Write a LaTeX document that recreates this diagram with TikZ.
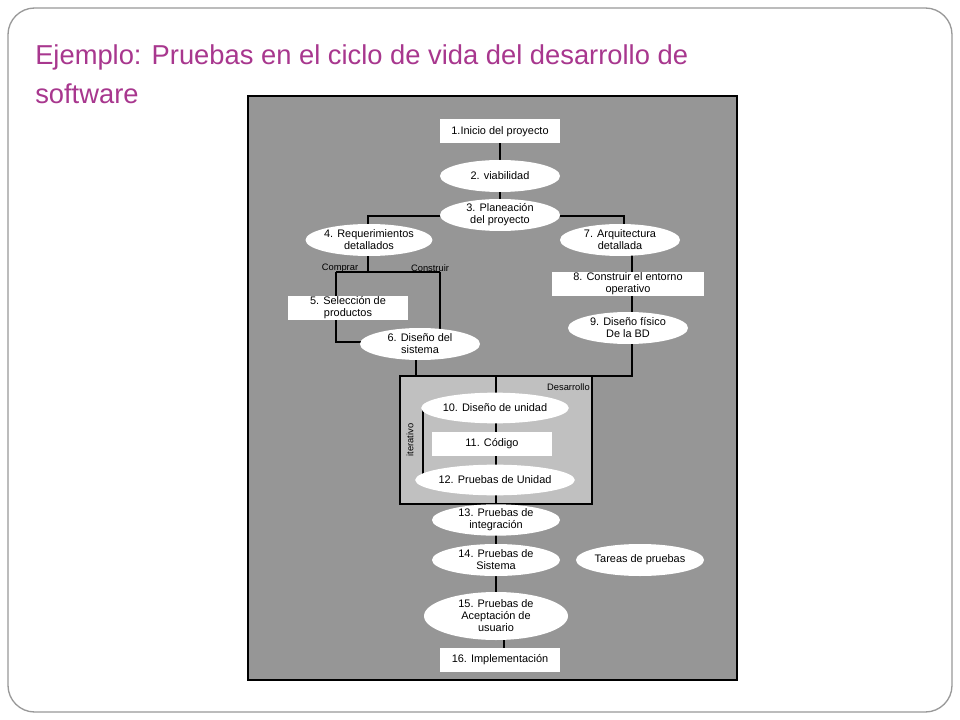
\documentclass[tikz,border=0pt]{standalone}
\usepackage{fontspec}
\setmainfont{Liberation Sans}
\usetikzlibrary{shapes.geometric}
\definecolor{ttl}{HTML}{A8378E}
\definecolor{panel}{HTML}{969696}
\definecolor{dev}{HTML}{C0C0C0}
\tikzset{
 ov/.style={ellipse,fill=white,inner sep=0pt,minimum width=#1*0.75pt,minimum height=24pt,align=center,font=\fontsize{8.2}{9}\selectfont},
 ov/.default=120,
 rb/.style={rectangle,fill=white,inner sep=0pt,minimum height=18pt,align=center,font=\fontsize{8.2}{9}\selectfont},
 ln/.style={draw=black,line width=0.9pt},
 lab/.style={font=\fontsize{7}{8}\selectfont,inner sep=0pt}
}
\begin{document}
\begin{tikzpicture}[x=0.75pt,y=-0.75pt]
\useasboundingbox (0,0) rectangle (960,720);
\fill[white] (0,0) rectangle (960,720);
\draw[draw=gray!80,line width=1pt,rounded corners=20pt,fill=white] (8,8) rectangle (952,712);
\node[anchor=base west,inner sep=0pt,text=ttl,font=\fontsize{20.5}{24}\selectfont] (t1) at (35,65) {Ejemplo: Pruebas en el ciclo de vida del desarrollo de};
\node[anchor=base west,inner sep=0pt,text=ttl,font=\fontsize{20.5}{24}\selectfont] (t2) at (35,104) {software};
\draw[fill=panel,draw=black,line width=0.8pt] (248,96) rectangle (737,680);
\draw[fill=dev,ln] (400,376) rectangle (592,504);
\coordinate (top) at (416,376);
\coordinate (tr) at (632,376);
\coordinate (c1) at (496,376);
% lines behind
\draw[ln] (500,131) -- (500,216);
\draw[ln] (440,216) -| (368,226);
\draw[ln] (560,216) -| (624,226);
\draw[ln] (368,255) -- (368,272);
\draw[ln] (336,272) -- (440,272);
\draw[ln] (336,272) -- (336,342) -- (362,342);
\draw[ln] (440,272) -- (440,332);
\draw[ln] (416,360) -- (top);
\draw[ln] (top) -- (tr) -- (632,255);
\draw[ln] (c1) -- (496,600);
\draw[ln] (504,630) -- (504,660);
\draw[ln] (432,408) -- (423,408) -- (423,480) -- (432,480);
% nodes
\node[rb,minimum width=90pt] (n1) at (500,131.5) {1.Inicio del proyecto};
\node[ov] (n2) at (500,176) {2. viabilidad};
\node[ov] (n3) at (500,215) {3. Planeación\\del proyecto};
\node[ov] (n4) at (369,240) {4. Requerimientos\\detallados};
\node[ov] (n7) at (620,240) {7. Arquitectura\\detallada};
\node[lab] (cp) at (340,268) {Comprar};
\node[lab] (cs) at (430,268) {Construir};
\node[rb,minimum width=90pt] (n5) at (348,308) {5. Selección de\\productos};
\node[ov] (n6) at (420,344) {6. Diseño del\\sistema};
\node[rb,minimum width=114pt] (n8) at (628,284) {8. Construir el entorno\\operativo};
\node[ov] (n9) at (628,328) {9. Diseño físico\\De la BD};
\node[lab,anchor=east] (ds) at (590,387) {Desarrollo};
\node[lab,rotate=90] (it) at (410,440) {iterativo};
\node[ov=130,minimum height=23pt] (n10) at (495,408) {10. Diseño de unidad};
\node[rb,minimum width=90pt] (n11) at (492,444) {11. Código};
\node[ov=130,minimum height=23pt] (n12) at (495,480) {12. Pruebas de Unidad};
\node[ov=128,minimum height=22pt] (n13) at (496,520) {13. Pruebas de\\integración};
\node[ov=128] (n14) at (496,560) {14. Pruebas de\\Sistema};
\node[ov=128] (tp) at (640,560) {Tareas de pruebas};
\node[ov=144,minimum height=36pt] (n15) at (496,616) {15. Pruebas de\\Aceptación de\\usuario};
\node[rb,minimum width=90pt] (n16) at (500,660) {16. Implementación};
\end{tikzpicture}
\end{document}
